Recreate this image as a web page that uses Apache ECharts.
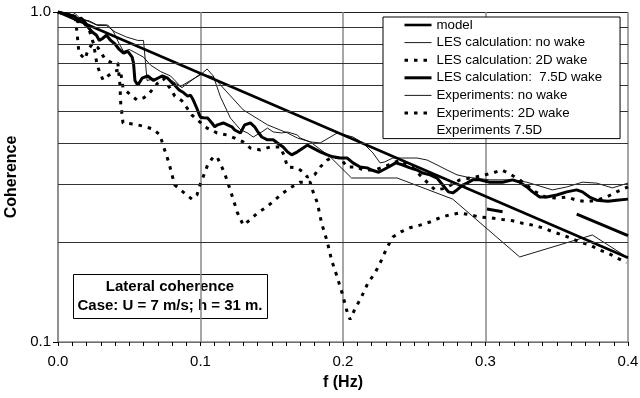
<!DOCTYPE html>
<html>
<head>
<meta charset="utf-8">
<script src="https://cdn.jsdelivr.net/npm/echarts@6/dist/echarts.min.js"></script>
<style>
html,body{margin:0;padding:0;background:#fff;}
#chart{width:640px;height:398px;}
</style>
</head>
<body>
<div id="chart"></div>
<script>
// ---------- data (frequency [Hz], coherence) ----------
const seriesNames = ['model','LES calculation: no wake','LES calculation: 2D wake','LES calculation:  7.5D wake','Experiments: no wake','Experiments: 2D wake','Experiments 7.5D'];

const modelData = [[0,1.0],[0.4,0.18]];

const lesNoWake = [[0,1.0],[0.018,0.95],[0.028,0.91],[0.034,0.91],[0.04,0.87],[0.048,0.84],[0.056,0.82],[0.06,0.82],[0.0625,0.62],[0.075,0.64],[0.087,0.59],[0.1,0.65],[0.109,0.635],[0.13,0.505],[0.147,0.455],[0.161,0.43],[0.168,0.415],[0.177,0.404],[0.191,0.364],[0.206,0.314],[0.238,0.314],[0.277,0.271],[0.324,0.181],[0.375,0.211],[0.4,0.18]];

const les2D = [[0,1.0],[0.012,0.96],[0.018,0.93],[0.022,0.88],[0.025,0.80],[0.0274,0.691],[0.0295,0.654],[0.0316,0.622],[0.035,0.64],[0.04,0.663],[0.0435,0.667],[0.045,0.622],[0.0456,0.588],[0.052,0.556],[0.0554,0.541],[0.06,0.549],[0.063,0.56],[0.07,0.609],[0.0737,0.631],[0.0786,0.588],[0.082,0.556],[0.087,0.538],[0.0905,0.512],[0.094,0.487],[0.098,0.47],[0.1046,0.445],[0.1116,0.43],[0.1186,0.424],[0.124,0.415],[0.13,0.404],[0.135,0.387],[0.142,0.382],[0.149,0.39],[0.156,0.39],[0.159,0.364],[0.161,0.339],[0.168,0.337],[0.172,0.327],[0.175,0.316],[0.18,0.321],[0.184,0.339],[0.189,0.356],[0.193,0.364],[0.198,0.361],[0.203,0.339],[0.21,0.339],[0.214,0.332],[0.2225,0.332],[0.232,0.344],[0.24,0.356],[0.249,0.337],[0.259,0.305],[0.2646,0.289],[0.2716,0.292],[0.282,0.31],[0.289,0.314],[0.296,0.318],[0.3046,0.325],[0.3116,0.332],[0.317,0.323],[0.324,0.31],[0.335,0.285],[0.342,0.275],[0.35,0.273],[0.357,0.275],[0.364,0.269],[0.371,0.266],[0.378,0.269],[0.385,0.275],[0.392,0.285],[0.4,0.295]];

const les75D = [[0,1.0],[0.012,0.97],[0.014,0.93],[0.016,0.96],[0.019,0.93],[0.021,0.90],[0.024,0.87],[0.027,0.85],[0.029,0.82],[0.031,0.83],[0.034,0.85],[0.037,0.82],[0.040,0.80],[0.043,0.77],[0.046,0.75],[0.049,0.76],[0.052,0.73],[0.053,0.70],[0.054,0.62],[0.056,0.60],[0.059,0.63],[0.063,0.64],[0.067,0.62],[0.070,0.63],[0.073,0.64],[0.077,0.63],[0.080,0.61],[0.082,0.60],[0.085,0.58],[0.088,0.57],[0.091,0.556],[0.093,0.56],[0.095,0.54],[0.0975,0.51],[0.099,0.49],[0.100,0.48],[0.102,0.478],[0.105,0.477],[0.108,0.461],[0.110,0.449],[0.112,0.455],[0.116,0.461],[0.119,0.455],[0.122,0.449],[0.124,0.439],[0.128,0.43],[0.131,0.455],[0.135,0.461],[0.138,0.449],[0.140,0.435],[0.143,0.418],[0.147,0.41],[0.151,0.41],[0.154,0.401],[0.158,0.39],[0.161,0.377],[0.164,0.369],[0.168,0.377],[0.172,0.387],[0.175,0.395],[0.179,0.387],[0.184,0.377],[0.189,0.369],[0.193,0.364],[0.198,0.361],[0.203,0.361],[0.207,0.349],[0.212,0.339],[0.217,0.337],[0.220,0.332],[0.225,0.327],[0.228,0.332],[0.232,0.339],[0.237,0.349],[0.241,0.345],[0.247,0.337],[0.252,0.332],[0.256,0.325],[0.261,0.321],[0.266,0.314],[0.270,0.299],[0.274,0.285],[0.277,0.283],[0.280,0.289],[0.284,0.299],[0.287,0.303],[0.291,0.310],[0.296,0.310],[0.303,0.305],[0.312,0.305],[0.319,0.310],[0.324,0.305],[0.329,0.295],[0.333,0.285],[0.338,0.275],[0.343,0.275],[0.350,0.279],[0.357,0.285],[0.364,0.289],[0.368,0.285],[0.373,0.275],[0.378,0.269],[0.386,0.267],[0.392,0.269],[0.40,0.271]];

const expNoWake = [[0,1.0],[0.008,0.97],[0.012,0.99],[0.016,0.95],[0.022,0.94],[0.027,0.915],[0.031,0.915],[0.035,0.913],[0.039,0.87],[0.043,0.80],[0.046,0.76],[0.05,0.77],[0.055,0.75],[0.06,0.73],[0.065,0.69],[0.072,0.66],[0.079,0.64],[0.086,0.595],[0.093,0.62],[0.1,0.645],[0.1046,0.672],[0.109,0.64],[0.114,0.553],[0.121,0.477],[0.128,0.44],[0.133,0.43],[0.137,0.418],[0.143,0.433],[0.147,0.445],[0.151,0.433],[0.157,0.43],[0.161,0.433],[0.168,0.424],[0.17,0.415],[0.177,0.404],[0.184,0.401],[0.196,0.43],[0.207,0.418],[0.214,0.401],[0.221,0.374],[0.226,0.349],[0.229,0.351],[0.235,0.361],[0.241,0.361],[0.252,0.361],[0.259,0.356],[0.266,0.344],[0.273,0.332],[0.28,0.321],[0.287,0.316],[0.303,0.31],[0.319,0.31],[0.329,0.305],[0.347,0.289],[0.357,0.295],[0.368,0.305],[0.378,0.303],[0.389,0.293],[0.4,0.303]];

const exp2D = [[0,1.0],[0.012,0.97],[0.0133,0.87],[0.0147,0.751],[0.019,0.72],[0.021,0.767],[0.024,0.80],[0.028,0.78],[0.033,0.72],[0.038,0.70],[0.042,0.70],[0.0435,0.60],[0.044,0.53],[0.0456,0.461],[0.0526,0.458],[0.0596,0.451],[0.0667,0.442],[0.0716,0.424],[0.0737,0.395],[0.0765,0.364],[0.0786,0.339],[0.08,0.321],[0.082,0.299],[0.0877,0.285],[0.094,0.271],[0.0975,0.279],[0.0996,0.299],[0.1018,0.316],[0.105,0.344],[0.109,0.364],[0.1116,0.364],[0.115,0.339],[0.1186,0.31],[0.122,0.279],[0.126,0.246],[0.13,0.226],[0.135,0.235],[0.14,0.246],[0.1467,0.257],[0.152,0.269],[0.158,0.283],[0.164,0.295],[0.17,0.305],[0.177,0.305],[0.179,0.285],[0.182,0.264],[0.185,0.229],[0.189,0.201],[0.192,0.177],[0.196,0.157],[0.1993,0.141],[0.203,0.123],[0.205,0.117],[0.208,0.125],[0.213,0.137],[0.2175,0.151],[0.2225,0.162],[0.227,0.177],[0.231,0.194],[0.235,0.208],[0.241,0.216],[0.247,0.222],[0.254,0.226],[0.261,0.231],[0.268,0.238],[0.275,0.243],[0.282,0.246],[0.289,0.243],[0.296,0.239],[0.303,0.238],[0.312,0.235],[0.319,0.233],[0.326,0.229],[0.333,0.226],[0.34,0.222],[0.347,0.216],[0.354,0.211],[0.359,0.207],[0.366,0.201],[0.373,0.197],[0.38,0.19],[0.386,0.186],[0.392,0.18],[0.399,0.174]];

const exp75D = [[0.301,0.253],[0.312,0.248],[0.34,null],[0.364,0.244],[0.4,0.21]];

const minorGridValues = [0.2,0.3,0.4,0.5,0.6,0.7,0.8,0.9];
const annotationLines = ['Lateral coherence','Case: U = 7 m/s; h = 31 m.'];

// ---------- styles ----------
const FONT = 'Liberation Sans, Arial, Helvetica, sans-serif';
const lineStyles = [
  {width: 2.6, type: 'solid'},
  {width: 0.9, type: 'solid'},
  {width: 3, type: [3.5, 6]},
  {width: 3, type: 'solid'},
  {width: 0.9, type: 'solid'},
  {width: 3, type: [3.5, 6]},
  {width: 3, type: 'solid'}
];
const seriesData = [modelData, lesNoWake, les2D, les75D, expNoWake, exp2D, exp75D];

const chart = echarts.init(document.getElementById('chart'), null, {renderer:'canvas'});

const dataSeries = seriesNames.map((name, i) => ({
  name: name, type: 'line', data: seriesData[i], symbol: 'none', showSymbol: false,
  connectNulls: false, animation: false, z: (lineStyles[i].width > 2 && lineStyles[i].type === 'solid') ? 4 : 3, silent: true,
  itemStyle: {color: '#000', opacity: 0},
  lineStyle: {color: '#000', width: lineStyles[i].width, type: lineStyles[i].type, cap: 'butt', opacity: 1}
}));

const legendData = seriesNames.map((name, i) => name === 'Experiments 7.5D'
  ? {name: name, icon: 'rect', itemStyle: {color: 'rgba(0,0,0,0)', opacity: 0, borderWidth: 0}, lineStyle: {opacity: 0, width: 0}}
  : {name: name, lineStyle: {color: '#000', width: lineStyles[i].width, type: lineStyles[i].type, opacity: 1}});

const option = {
  animation: false,
  backgroundColor: '#fff',
  color: ['#000'],
  grid: {left: 58, right: 12, top: 12, bottom: 56, containLabel: false, outerBoundsMode: 'none'},
  xAxis: {
    type: 'value', min: 0, max: 0.4, interval: 0.1,
    name: 'f (Hz)', nameLocation: 'middle', nameGap: 33,
    nameTextStyle: {fontFamily: FONT, fontSize: 16, fontWeight: 'bold', color: '#000'},
    axisLine: {show: true, lineStyle: {color: '#888', width: 1.5}},
    axisTick: {show: true, length: 4, lineStyle: {color: '#000'}},
    minorTick: {show: true, splitNumber: 10, length: 4, lineStyle: {color: '#000'}},
    axisLabel: {fontFamily: FONT, fontSize: 15, color: '#000', margin: 12, formatter: v => v.toFixed(1)},
    splitLine: {show: true, lineStyle: {color: '#888', width: 1.5}}
  },
  yAxis: {
    type: 'log', logBase: 10, min: 0.1, max: 1,
    name: 'Coherence', nameLocation: 'middle', nameGap: 34, nameRotate: 90,
    nameTextStyle: {fontFamily: FONT, fontSize: 16, fontWeight: 'bold', color: '#000'},
    axisLine: {show: true, lineStyle: {color: '#888', width: 1.5}},
    axisTick: {show: true, length: 5, lineStyle: {color: '#000'}},
    axisLabel: {fontFamily: FONT, fontSize: 15, color: '#000', margin: 7, formatter: v => Number(v).toFixed(1)},
    splitLine: {show: true, lineStyle: {color: '#222', width: 1}}
  },
  legend: {
    data: legendData,
    orient: 'vertical', left: 383, top: 17,
    itemWidth: 27, itemHeight: 14, itemGap: 3.6,
    padding: [1, 18, 1, 20],
    selectedMode: false,
    itemStyle: {opacity: 0, borderWidth: 0},
    backgroundColor: '#fff', borderColor: '#000', borderWidth: 1,
    textStyle: {fontFamily: FONT, fontSize: 13.3, color: '#000', lineHeight: 14, padding: [0, 0, 0, 0]},
    z: 20
  },
  graphic: [{
    type: 'group', left: 73, top: 274, z: 30,
    children: [
      {type: 'rect', shape: {x: 0.5, y: 0.5, width: 194, height: 44}, style: {fill: '#fff', stroke: '#000', lineWidth: 1}},
      {type: 'text', x: 97, y: 13, style: {text: annotationLines[0], font: 'bold 15px ' + FONT, align: 'center', verticalAlign: 'middle', fill: '#000'}},
      {type: 'text', x: 97, y: 32, style: {text: annotationLines[1], font: 'bold 15px ' + FONT, align: 'center', verticalAlign: 'middle', fill: '#000'}}
    ]
  }],
  series: [
    {
      type: 'line', data: [], z: 1, silent: true, symbol: 'none',
      markLine: {
        silent: true, symbol: 'none', animation: false,
        label: {show: false},
        lineStyle: {color: '#333', width: 1, type: 'solid'},
        data: minorGridValues.map(v => ({yAxis: v}))
      }
    }
  ].concat(dataSeries)
};
chart.setOption(option);
</script>
</body>
</html>
